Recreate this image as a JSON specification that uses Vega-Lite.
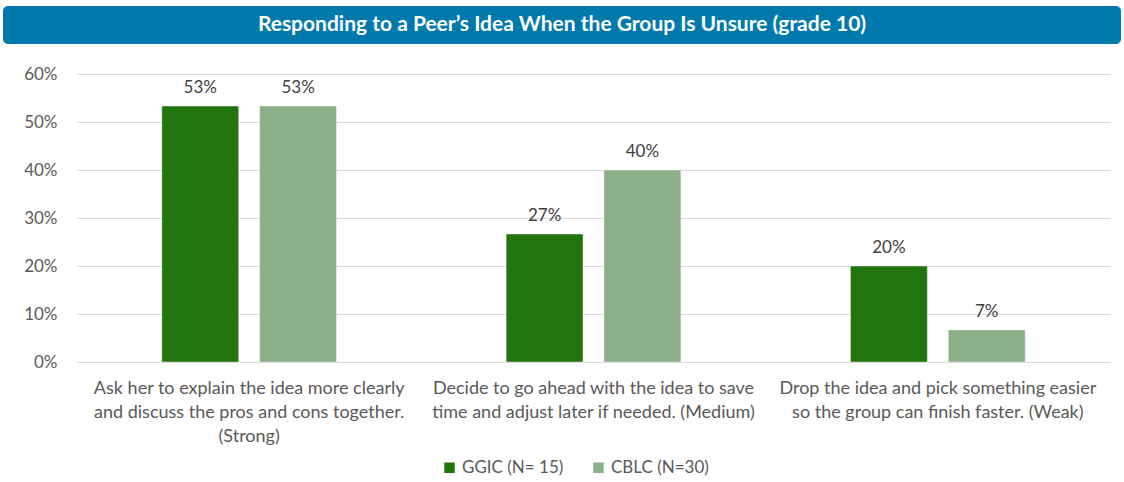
{
  "$schema": "https://vega.github.io/schema/vega-lite/v6.json",
  "padding": {"left": 3, "top": 6, "right": 3, "bottom": 5},
  "background": "white",
  "config": {
    "font": "Lato",
    "view": {"stroke": null}
  },
  "datasets": {
    "title": [{"t": "Responding to a Peer’s Idea When the Group Is Unsure  (grade 10)"}],
    "main": [
      {"cat": "Ask her to explain the idea more clearly|and discuss the pros and cons together.|(Strong)", "group": "GGIC (N= 15)", "value": 0.5333},
      {"cat": "Ask her to explain the idea more clearly|and discuss the pros and cons together.|(Strong)", "group": "CBLC (N=30)", "value": 0.5333},
      {"cat": "Decide to go ahead with the idea to save|time and adjust later if needed. (Medium)", "group": "GGIC (N= 15)", "value": 0.2667},
      {"cat": "Decide to go ahead with the idea to save|time and adjust later if needed. (Medium)", "group": "CBLC (N=30)", "value": 0.4},
      {"cat": "Drop the idea and pick something easier|so the group can finish faster. (Weak)", "group": "GGIC (N= 15)", "value": 0.2},
      {"cat": "Drop the idea and pick something easier|so the group can finish faster. (Weak)", "group": "CBLC (N=30)", "value": 0.0667}
    ]
  },
  "spacing": 21,
  "center": true,
  "vconcat": [
    {
      "width": 1118,
      "height": 38,
      "data": {"name": "title"},
      "view": {"fill": "#0079AD", "cornerRadius": 5, "stroke": null},
      "mark": {"type": "text", "color": "white", "fontSize": 21, "fontWeight": "bold", "font": "Lato"},
      "encoding": {
        "text": {"field": "t"},
        "y": {
          "datum": 0.5, "type": "quantitative",
          "scale": {"domain": [0, 1]},
          "axis": {
            "orient": "right", "title": null, "labels": false, "ticks": false,
            "domain": false, "grid": false, "minExtent": 63, "maxExtent": 63
          }
        }
      }
    },
    {
      "width": 1033,
      "height": 288,
      "data": {"name": "main"},
      "encoding": {
        "x": {
          "field": "cat", "type": "nominal", "sort": null,
          "scale": {"paddingInner": 0, "paddingOuter": 0},
          "axis": {
            "title": null, "labelAngle": 0, "ticks": false, "domain": true,
            "domainColor": "#D9D9D9", "labelFontSize": 18, "labelColor": "#595959",
            "labelLineHeight": 24, "labelPadding": 17, "labelLimit": 0,
            "labelExpr": "split(datum.label, '|')"
          }
        },
        "xOffset": {
          "field": "group", "type": "nominal",
          "sort": ["GGIC (N= 15)", "CBLC (N=30)"],
          "scale": {"paddingInner": 0.214, "paddingOuter": 0.867}
        },
        "y": {
          "field": "value", "type": "quantitative",
          "scale": {"domain": [0, 0.6], "nice": false},
          "axis": {
            "title": null, "format": ".0%", "values": [0, 0.1, 0.2, 0.3, 0.4, 0.5, 0.6],
            "ticks": false, "domain": false, "gridColor": "#D9D9D9",
            "labelFontSize": 17, "labelColor": "#595959", "labelPadding": 20, "minExtent": 74
          }
        }
      },
      "layer": [
        {
          "mark": {"type": "bar", "stroke": "#ffffff", "strokeOpacity": 0.4, "strokeWidth": 1},
          "encoding": {
            "color": {
              "field": "group", "type": "nominal",
              "scale": {"domain": ["GGIC (N= 15)", "CBLC (N=30)"], "range": ["#22740F", "#8BAF87"]},
              "legend": {
                "title": null, "orient": "none", "direction": "horizontal",
                "legendX": 438, "legendY": 453,
                "symbolType": "square", "symbolSize": 110, "symbolStrokeWidth": 0,
                "labelFontSize": 17, "labelColor": "#595959", "columnPadding": 26
              }
            }
          }
        },
        {
          "mark": {"type": "text", "baseline": "bottom", "dy": -9, "fontSize": 17, "color": "#404040"},
          "encoding": {"text": {"field": "value", "type": "quantitative", "format": ".0%"}}
        }
      ]
    }
  ]
}
